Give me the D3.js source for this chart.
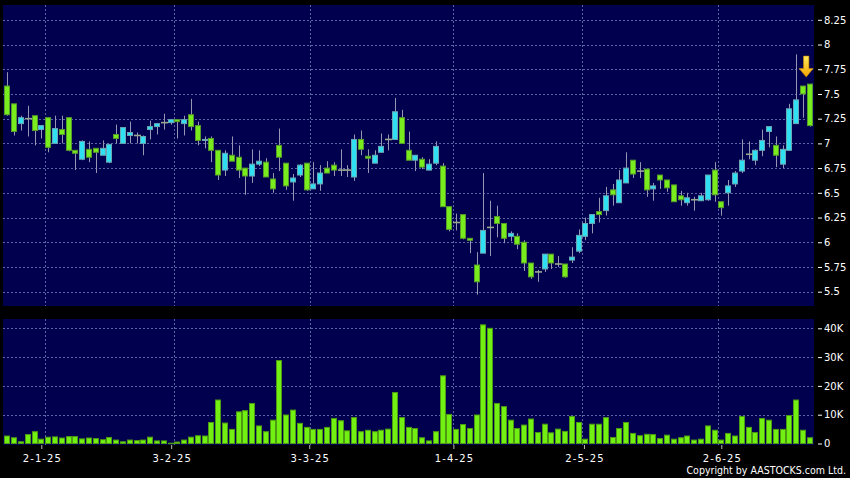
<!DOCTYPE html>
<html><head><meta charset="utf-8">
<script src="https://cdn.jsdelivr.net/npm/d3@7"></script>
<style>html,body{margin:0;padding:0;background:#000;overflow:hidden}</style>
</head><body><svg id="c" width="850" height="478"></svg>
<script>
// ---- data (one entry per trading session, oldest first) ----
const openP = [7.58,7.40,7.20,7.25,7.28,7.14,7.26,7.00,7.14,7.26,
 6.93,6.84,6.94,6.95,6.88,6.81,7.09,7.00,7.08,7.08,
 7.00,7.14,7.17,7.21,7.21,7.24,7.20,7.29,7.18,7.03,
 7.05,6.93,6.73,6.88,6.86,6.75,6.67,6.79,6.81,6.64,
 6.98,6.80,6.61,6.68,6.80,6.54,6.59,6.75,6.78,6.73,
 6.73,6.66,7.04,6.87,6.80,6.91,7.04,7.04,7.26,6.93,
 6.83,6.84,6.73,6.80,6.77,6.36,6.20,6.28,6.04,5.77,
 5.89,6.15,6.26,6.19,6.06,6.06,6.00,5.79,5.70,5.73,
 5.88,5.78,5.78,5.82,5.91,6.06,6.19,6.31,6.32,6.53,
 6.40,6.60,6.83,6.72,6.74,6.54,6.68,6.63,6.58,6.47,
 6.40,6.43,6.42,6.43,6.73,6.41,6.50,6.59,6.72,6.89,
 6.83,6.93,7.12,6.98,6.79,6.93,7.20,7.58,7.60];
const highP = [7.72,7.40,7.28,7.38,7.28,7.18,7.26,7.28,7.28,7.26,
 6.93,7.03,7.02,6.95,7.03,6.99,7.19,7.16,7.22,7.11,
 7.08,7.23,7.20,7.30,7.24,7.24,7.28,7.45,7.22,7.07,
 7.07,6.93,6.93,7.07,6.98,6.75,6.94,6.93,6.85,6.70,
 7.15,6.80,6.69,6.79,6.80,6.81,6.78,6.82,6.81,6.94,
 6.78,7.09,7.13,6.94,6.93,7.10,7.09,7.46,7.34,7.12,
 6.88,6.86,6.84,7.02,6.80,6.36,6.29,6.28,6.04,5.90,
 6.70,6.42,6.37,6.19,6.11,6.09,6.02,5.79,5.72,5.88,
 5.88,5.86,5.78,5.95,6.13,6.25,6.28,6.45,6.56,6.59,
 6.73,6.91,6.83,6.81,6.74,6.60,6.68,6.63,6.58,6.52,
 6.50,6.46,6.50,6.68,6.81,6.41,6.63,6.72,7.04,7.02,
 6.94,7.14,7.17,7.07,6.98,7.40,7.90,7.58,7.60];
const lowP = [7.28,7.08,7.13,7.07,6.98,7.05,6.91,7.00,7.00,6.92,
 6.73,6.83,6.81,6.70,6.88,6.80,7.00,7.00,7.00,7.00,
 6.88,7.04,7.09,7.14,7.19,7.05,7.08,7.13,6.98,6.95,
 6.81,6.63,6.67,6.82,6.65,6.48,6.60,6.77,6.66,6.50,
 6.72,6.53,6.42,6.66,6.52,6.54,6.52,6.70,6.67,6.67,
 6.66,6.62,6.88,6.70,6.80,6.91,6.93,7.04,7.00,6.83,
 6.72,6.74,6.73,6.78,6.36,6.11,6.12,6.03,5.89,5.47,
 5.89,5.86,6.05,5.99,6.01,5.93,5.71,5.63,5.60,5.70,
 5.73,5.75,5.64,5.79,5.89,6.02,6.09,6.20,6.27,6.37,
 6.40,6.60,6.65,6.65,6.46,6.42,6.54,6.51,6.41,6.37,
 6.37,6.32,6.42,6.42,6.41,6.27,6.37,6.56,6.70,6.84,
 6.78,6.87,6.96,6.76,6.75,6.93,7.20,7.26,7.17];
const closeP = [7.29,7.12,7.26,7.25,7.13,7.18,6.96,7.15,7.09,6.93,
 6.90,7.02,6.86,6.91,6.95,6.99,7.05,7.16,7.11,7.08,
 7.07,7.17,7.20,7.21,7.24,7.22,7.24,7.17,7.03,7.04,
 6.93,6.68,6.90,6.82,6.73,6.67,6.79,6.82,6.66,6.54,
 6.86,6.57,6.65,6.78,6.53,6.59,6.70,6.70,6.73,6.73,
 6.73,7.04,6.94,6.85,6.88,6.97,7.04,7.32,7.00,6.83,
 6.88,6.76,6.79,6.97,6.36,6.13,6.20,6.04,6.02,5.60,
 6.12,6.15,6.19,6.04,6.09,5.98,5.79,5.65,5.70,5.88,
 5.79,5.78,5.65,5.85,6.07,6.19,6.28,6.28,6.47,6.48,
 6.63,6.75,6.69,6.72,6.53,6.57,6.63,6.55,6.41,6.43,
 6.45,6.43,6.47,6.68,6.48,6.35,6.57,6.70,6.83,6.89,
 6.93,7.03,7.17,6.88,6.94,7.35,7.44,7.50,7.18];
const volumeK = [2.6,2.0,0.6,3.1,4.1,1.5,2.2,2.3,1.9,2.4,
 2.4,1.6,1.9,1.7,1.3,2.1,1.2,0.6,1.2,1.0,
 1.2,2.2,0.9,0.9,0.1,0.5,1.2,2.2,2.7,2.6,
 7.3,15.1,7.1,4.9,11.0,11.4,13.9,6.1,4.1,8.1,
 28.8,9.9,11.6,7.0,5.6,4.9,4.9,5.6,8.7,7.9,
 4.4,9.0,4.1,4.6,4.1,4.6,5.0,17.7,9.0,5.6,
 5.2,2.0,0.9,4.1,23.5,10.1,4.9,6.6,5.2,9.9,
 41.2,40.0,13.9,12.8,8.1,5.2,6.4,8.5,3.8,6.7,
 3.7,5.0,4.2,9.4,7.3,1.5,6.7,6.7,9.0,2.1,
 5.2,7.3,3.5,2.7,3.2,3.1,1.7,2.9,1.5,2.0,
 2.6,1.2,1.5,6.1,4.6,1.2,3.5,2.6,9.4,5.6,
 3.8,8.7,8.1,4.9,4.9,9.7,15.1,4.6,2.0];
const priceTicks = [5.5,5.75,6,6.25,6.5,6.75,7,7.25,7.5,7.75,8,8.25];
const volumeTicks = [0,10,20,30,40];
const dateLabels = ["2-1-25","3-2-25","3-3-25","1-4-25","2-5-25","2-6-25"];
const dateLabelAt = [5, 24.1, 44.4, 65.6, 84.8, 105];
const monthGridAt = [5.5, 24.5, 44.5, 65.5, 84.5, 104.5];
const copyrightText = "Copyright by AASTOCKS.com Ltd.";

// ---- layout ----
const W = 850, H = 478;
const P = {x0: 3, x1: 814, top: 5, bottom: 306};
const V = {top: 319, bottom: 445};
const n = openP.length;
const FONT = "'DejaVu Sans', Verdana, sans-serif";

const svg = d3.select("#c");
svg.append("rect").attr("width", W).attr("height", H).attr("fill", "#000");

const x = d3.scaleLinear().domain([0, n - 1]).range([7.3, 809.7]);
const y = d3.scaleLinear().domain([5.5, 8.25]).range([291.7, 19.8]);
const yv = d3.scaleLinear().domain([0, 40]).range([443.5, 328.3]);

const px = v => Math.round(v) + 0.5;

// panels
svg.append("rect").attr("x", P.x0).attr("y", P.top).attr("width", P.x1 - P.x0).attr("height", P.bottom - P.top).attr("fill", "#00004f");
svg.append("rect").attr("x", P.x0).attr("y", V.top).attr("width", P.x1 - P.x0).attr("height", V.bottom - V.top).attr("fill", "#00004f");

const gridColor = "#5a66a6";
const grid = svg.append("g").attr("stroke", gridColor).attr("stroke-width", 1).attr("stroke-dasharray", "2,2").attr("fill", "none");
grid.selectAll(".hp").data(priceTicks).join("line")
  .attr("x1", P.x0).attr("x2", P.x1).attr("y1", d => px(y(d))).attr("y2", d => px(y(d)));
grid.selectAll(".hv").data(volumeTicks.filter(d => d > 0)).join("line")
  .attr("x1", P.x0).attr("x2", P.x1).attr("y1", d => px(yv(d))).attr("y2", d => px(yv(d)));
grid.selectAll(".vm").data(monthGridAt).join("line")
  .attr("x1", d => px(x(d))).attr("x2", d => px(x(d))).attr("y1", P.top).attr("y2", P.bottom);
grid.selectAll(".vv").data(monthGridAt).join("line")
  .attr("x1", d => px(x(d))).attr("x2", d => px(x(d))).attr("y1", V.top).attr("y2", V.bottom);

// candles
const idx = d3.range(n);
const candles = svg.append("g");
candles.selectAll(".wick").data(idx).join("line")
  .attr("x1", i => Math.round(x(i) - 3) + 3.5).attr("x2", i => Math.round(x(i) - 3) + 3.5)
  .attr("y1", i => y(highP[i])).attr("y2", i => y(lowP[i]))
  .attr("stroke", "#9696b4").attr("stroke-width", 1);

const upFill = "#2fe0f2", upStroke = "#6aa6b4", dnFill = "#78ec1c", dnStroke = "#559c2a", dojiCol = "#9aa88e";
candles.selectAll(".body").data(idx.filter(i => openP[i] !== closeP[i])).join("rect")
  .attr("x", i => Math.round(x(i) - 3) + 0.5)
  .attr("width", 5)
  .attr("y", i => y(Math.max(openP[i], closeP[i])))
  .attr("height", i => Math.max(1, Math.abs(y(openP[i]) - y(closeP[i]))))
  .attr("fill", i => closeP[i] > openP[i] ? upFill : dnFill)
  .attr("stroke", i => closeP[i] > openP[i] ? upStroke : dnStroke)
  .attr("stroke-width", 1);
candles.selectAll(".doji").data(idx.filter(i => openP[i] === closeP[i])).join("line")
  .attr("x1", i => Math.round(x(i) - 3)).attr("x2", i => Math.round(x(i) - 3) + 7)
  .attr("y1", i => y(openP[i])).attr("y2", i => y(openP[i]))
  .attr("stroke", dojiCol).attr("stroke-width", 1.6);

// volume bars
svg.append("g").selectAll("rect").data(idx).join("rect")
  .attr("x", i => Math.round(x(i) - 3) + 0.5)
  .attr("width", 5)
  .attr("y", i => yv(volumeK[i]))
  .attr("height", i => Math.max(0.5, yv(0) - yv(volumeK[i])))
  .attr("fill", "#72f012").attr("stroke", "#4d9a14").attr("stroke-width", 1);

// arrow marker over the latest session
const defs = svg.append("defs");
const lg = defs.append("linearGradient").attr("id", "arr").attr("x1", 0).attr("y1", 0).attr("x2", 0).attr("y2", 1);
lg.append("stop").attr("offset", "0").attr("stop-color", "#ffe85a");
lg.append("stop").attr("offset", "1").attr("stop-color", "#f4a400");
const ax = x(n - 1) - 3.5, tipY = y(highP[n - 1]) - 7;
svg.append("path")
  .attr("d", `M${ax - 2.7},${tipY - 21} L${ax + 2.7},${tipY - 21} L${ax + 2.7},${tipY - 8.5} L${ax + 7},${tipY - 8.5} L${ax},${tipY} L${ax - 7},${tipY - 8.5} L${ax - 2.7},${tipY - 8.5} Z`)
  .attr("fill", "url(#arr)").attr("stroke", "#c88400").attr("stroke-width", 0.6);

// right axes
function styleAxis(g) {
  g.select(".domain").remove();
  g.selectAll(".tick line").attr("stroke", "#fff");
  g.selectAll(".tick text").attr("fill", "#fff").attr("font-family", FONT).attr("font-size", 10);
}
svg.append("g").attr("transform", "translate(818,0)")
  .call(d3.axisRight(y).tickValues(priceTicks).tickSize(4).tickPadding(2).tickFormat(d3.format("")))
  .call(styleAxis);
svg.append("g").attr("transform", "translate(818,0)")
  .call(d3.axisRight(yv).tickValues(volumeTicks).tickSize(4).tickPadding(2).tickFormat(d => d === 0 ? "0" : d + "K"))
  .call(styleAxis);

// date axis
const xa = svg.append("g").attr("transform", `translate(0,${V.bottom})`)
  .call(d3.axisBottom(x).tickValues(dateLabelAt).tickSize(4).tickPadding(5).tickFormat((d, i) => dateLabels[i]));
xa.select(".domain").remove();
xa.selectAll(".tick line").attr("stroke", "#bbb");
xa.selectAll(".tick text").attr("fill", "#fff").attr("font-family", FONT).attr("font-size", 10)
  .attr("dy", null).attr("y", 17).attr("textLength", 38.3).attr("lengthAdjust", "spacing");

// copyright
svg.append("text").attr("x", 846).attr("y", 474.2).attr("text-anchor", "end")
  .attr("fill", "#fff").attr("font-family", FONT).attr("font-size", 9.6)
  .attr("textLength", 159.5).attr("lengthAdjust", "spacingAndGlyphs")
  .text(copyrightText);
</script></body></html>
